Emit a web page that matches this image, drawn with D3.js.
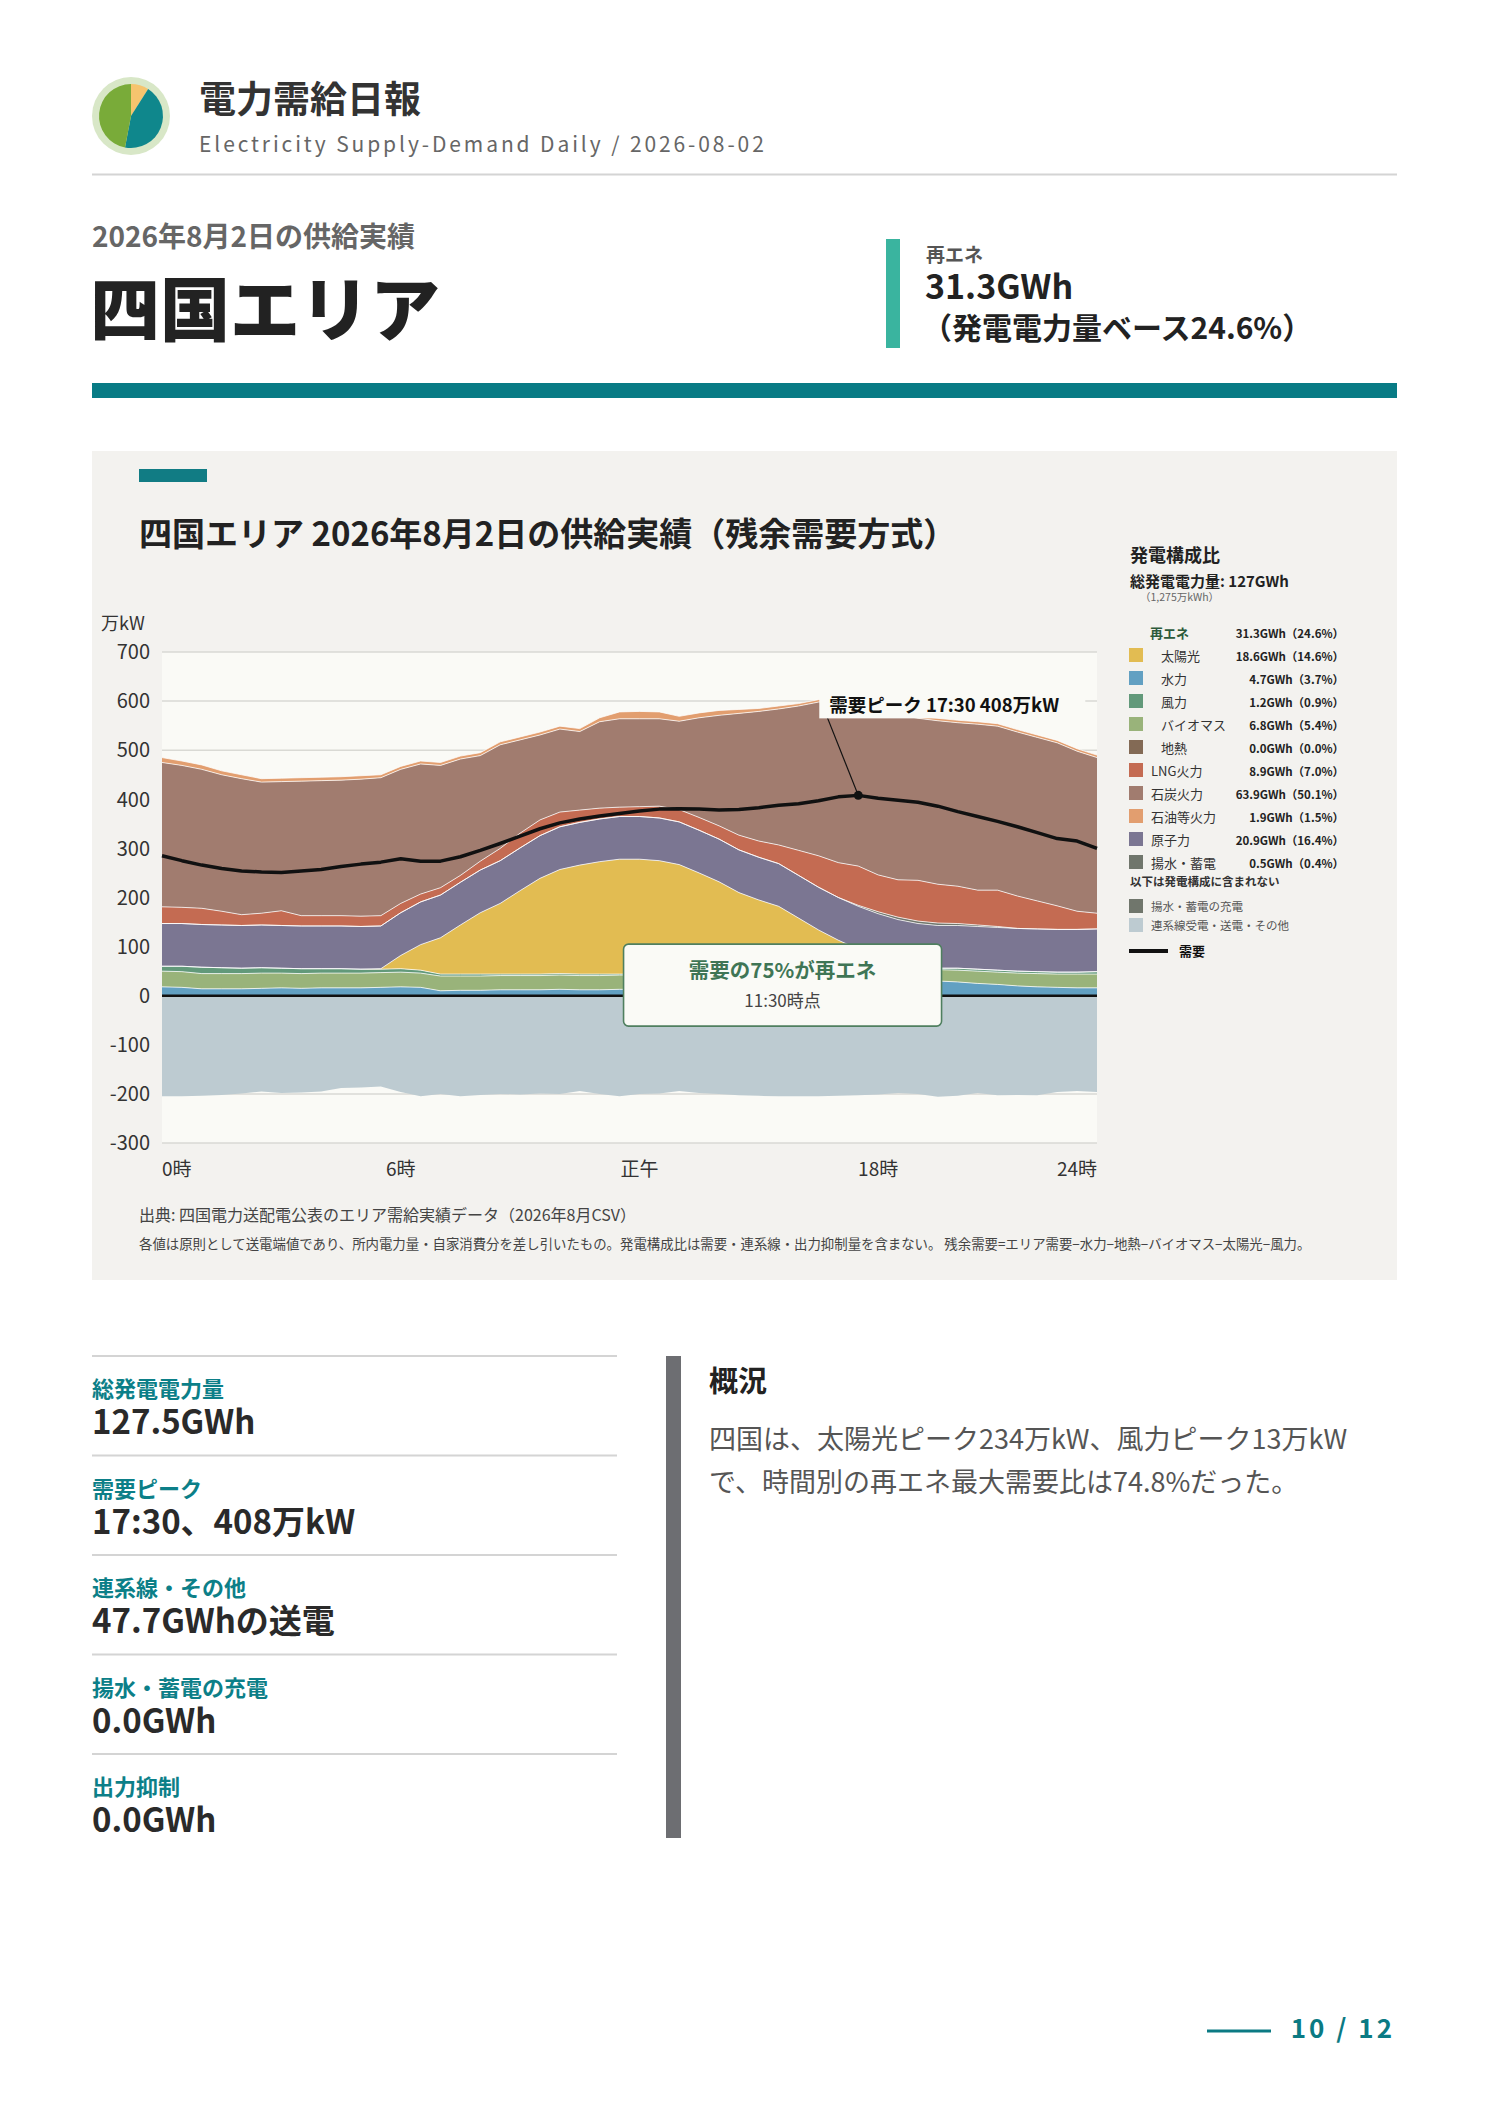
<!DOCTYPE html>
<html lang="ja">
<head>
<meta charset="utf-8">
<script src="https://cdn.jsdelivr.net/npm/d3@7"></script>
<style>
  body { margin: 0; background: #fff; }
  text { font-family: "Noto Sans CJK JP", "Noto Sans", sans-serif; }
</style>
</head>
<body>
<script>
// 30分値 (万kW), 0:00 ～ 23:30
var hydro = [18,17,14,14,14,15,16,15,16,16,16,17,18,17,10,11,11,12,12,12,13,12,12,13,13,13,14,15,16,18,20,22,25,28,30,31,32,32,31,30,28,25,23,20,18,17,16,16]
var biomass = [32,32,31,31,31,31,30,30,30,30,30,30,30,29,30,29,29,29,29,29,29,29,29,29,29,29,29,29,29,28,28,27,26,25,24,23,23,23,23,23,24,25,25,26,27,27,28,28]
var geothermal = [0,0,0,0,0,0,0,0,0,0,0,0,0,0,0,0,0,0,0,0,0,0,0,0,0,0,0,0,0,0,0,0,0,0,0,0,0,0,0,0,0,0,0,0,0,0,0,0]
var wind = [10,11,13,12,11,11,10,10,9,9,8,7,7,6,4,4,4,3,3,3,3,3,3,2,2,2,2,2,2,2,2,2,2,2,3,3,3,3,3,3,4,4,4,4,4,4,4,5]
var solar = [0,0,0,0,0,0,0,0,0,0,0,1,27,52,74,100,125,144,170,195,212,222,229,234,234,231,222,204,185,162,145,131,105,79,56,38,22,10,3,0,0,0,0,0,0,0,0,0]
var nuclear = [87,87,87,87,87,87,87,87,87,87,87,87,87,87,87,87,87,87,87,87,87,87,87,87,87,87,87,87,87,87,87,87,87,87,87,87,87,87,87,87,87,87,87,87,87,87,87,87]
var pumped = [0,0,0,0,0,0,0,0,0,0,0,0,0,0,0,0,0,0,0,0,0,0,0,0,0,0,0,0,0,0,0,0,0,0,0,2,4,5,5,5,4,3,2,0,0,0,0,0]
var lng = [34,33,33,28,22,24,30,21,21,21,21,21,19,16,15,14,18,25,30,32,30,25,22,19,20,24,25,26,27,30,33,38,51,64,71,80,75,76,83,79,76,71,74,66,57,48,37,32]
var coal = [294,289,283,278,277,267,263,274,275,276,279,281,273,265,249,237,215,211,190,173,169,160,176,180,179,178,180,203,225,248,264,277,294,313,330,329,337,337,330,333,333,338,334,334,333,332,326,317]
var oil = [10,9,9,8,8,7,7,7,7,7,7,6,6,6,6,6,6,6,6,6,6,6,8,14,15,14,10,10,10,8,6,6,5,5,5,5,5,5,5,5,5,5,5,5,5,5,5,5]
var interconnect = [-205,-205,-204,-202,-199,-195,-198,-197,-195,-188,-187,-185,-196,-205,-200,-205,-202,-200,-201,-199,-200,-194,-200,-205,-200,-199,-194,-198,-200,-203,-204,-205,-205,-205,-204,-203,-201,-198,-200,-206,-204,-198,-203,-202,-203,-196,-194,-196]
var demand = [285,275,266,259,254,252,251,254,257,263,268,272,279,274,274,283,296,310,325,340,352,360,366,371,376,380,381,380,378,379,383,388,391,397,405,408,402,398,394,386,375,365,355,344,332,320,315,300]

var yTicks = [700,600,500,400,300,200,100,0,-100,-200,-300]
var xTickHours = [0,6,12,18]
var xTickLabels = ["0時","6時","正午","18時"]

// 凡例 (発電構成比)
var legendNames = ["太陽光","水力","風力","バイオマス","地熱","LNG火力","石炭火力","石油等火力","原子力","揚水・蓄電"]
var legendGWh = [18.6,4.7,1.2,6.8,0.0,8.9,63.9,1.9,20.9,0.5]
var legendPct = [14.6,3.7,0.9,5.4,0.0,7.0,50.1,1.5,16.4,0.4]
var renewGWh = 31.3, renewPct = 24.6

var statLabels = ["総発電電力量","需要ピーク","連系線・その他","揚水・蓄電の充電","出力抑制"]
var statValues = ["127.5GWh","17:30、408万kW","47.7GWhの送電","0.0GWh","0.0GWh"]

var logoShares = [9,44,47]

var colors = {
  "水力": "#62a0c2",
  "バイオマス": "#99b37a",
  "地熱": "#836a55",
  "風力": "#62997a",
  "太陽光": "#e2bc52",
  "原子力": "#7b7692",
  "揚水・蓄電": "#70766c",
  "LNG火力": "#c46b52",
  "石炭火力": "#a17c6f",
  "石油等火力": "#e29e6f",
  "連系線": "#bdcbd1"
}

var svg = d3.select("body").append("svg")
  .attr("width", 1488)
  .attr("height", 2105)

// ---------- header ----------
var pie = d3.pie().sort(null)(logoShares)
svg.append("circle").attr("cx", 131).attr("cy", 116).attr("r", 39).attr("fill", "#d8e7c7")
svg.append("g").attr("transform", "translate(131,116)")
  .selectAll("path").data(pie).enter().append("path")
  .attr("d", d3.arc().innerRadius(0).outerRadius(32))
  .attr("fill", function(d, i){ return ["#f6c46e","#0f878c","#79ab39"][i] })

svg.append("text").attr("x", 199).attr("y", 113).text("電力需給日報")
  .attr("font-size", 37).attr("font-weight", 700).attr("fill", "#333")
svg.append("text").attr("x", 199).attr("y", 152).text("Electricity Supply-Demand Daily / 2026-08-02")
  .attr("font-size", 21).attr("letter-spacing", 2.9).attr("fill", "#666")
svg.append("rect").attr("x", 92).attr("y", 173.5).attr("width", 1305).attr("height", 2).attr("fill", "#d4d4d4")

svg.append("text").attr("x", 92).attr("y", 247).text("2026年8月2日の供給実績")
  .attr("font-size", 28).attr("font-weight", 700).attr("fill", "#666")
svg.append("text").attr("x", 90).attr("y", 336).text("四国エリア")
  .attr("font-size", 70).attr("font-weight", 900).attr("fill", "#222")

svg.append("rect").attr("x", 886).attr("y", 239).attr("width", 14).attr("height", 109).attr("fill", "#3ab49f")
svg.append("text").attr("x", 926).attr("y", 262).text("再エネ")
  .attr("font-size", 19).attr("font-weight", 700).attr("fill", "#555")
svg.append("text").attr("x", 925).attr("y", 299).text(renewGWh.toFixed(1) + "GWh")
  .attr("font-size", 34).attr("font-weight", 700).attr("fill", "#222")
svg.append("text").attr("x", 922).attr("y", 339).text("（発電電力量ベース" + renewPct.toFixed(1) + "%）")
  .attr("font-size", 30).attr("font-weight", 700).attr("fill", "#222")

svg.append("rect").attr("x", 92).attr("y", 383).attr("width", 1305).attr("height", 15).attr("fill", "#087b85")

// ---------- chart panel ----------
svg.append("rect").attr("x", 92).attr("y", 451).attr("width", 1305).attr("height", 829).attr("fill", "#f3f2ef")
svg.append("rect").attr("x", 139).attr("y", 469).attr("width", 68).attr("height", 13).attr("fill", "#117c84")
svg.append("text").attr("x", 139).attr("y", 546).text("四国エリア 2026年8月2日の供給実績（残余需要方式）")
  .attr("font-size", 33).attr("font-weight", 700).attr("fill", "#222")

var x = d3.scaleLinear().domain([0, 23.5]).range([162, 1097])
var y = d3.scaleLinear().domain([-300, 700]).range([1143, 652])

svg.append("rect").attr("x", 162).attr("y", 652).attr("width", 935).attr("height", 491).attr("fill", "#fafaf6")

svg.append("g").selectAll("line").data(yTicks).enter().append("line")
  .attr("x1", 162).attr("x2", 1097)
  .attr("y1", function(d){ return y(d) }).attr("y2", function(d){ return y(d) })
  .attr("stroke", "#d9d9d4").attr("stroke-width", 1.5)

svg.append("g").selectAll("text").data(yTicks).enter().append("text")
  .attr("x", 150).attr("y", function(d){ return y(d) })
  .attr("dy", "0.36em").attr("text-anchor", "end")
  .attr("font-size", 20).attr("fill", "#333")
  .text(function(d){ return d })
svg.append("text").attr("x", 101).attr("y", 630).text("万kW").attr("font-size", 18).attr("fill", "#333")

var rows = demand.map(function(d, i){
  return {
    t: i / 2,
    "水力": hydro[i], "バイオマス": biomass[i], "地熱": geothermal[i], "風力": wind[i],
    "太陽光": solar[i], "原子力": nuclear[i], "揚水・蓄電": pumped[i],
    "LNG火力": lng[i], "石炭火力": coal[i], "石油等火力": oil[i]
  }
})
var keys = ["水力","バイオマス","地熱","風力","太陽光","原子力","揚水・蓄電","LNG火力","石炭火力","石油等火力"]
var series = d3.stack().keys(keys)(rows)

var area = d3.area()
  .x(function(d){ return x(d.data.t) })
  .y0(function(d){ return y(d[0]) })
  .y1(function(d){ return y(d[1]) })
var topLine = d3.line()
  .x(function(d){ return x(d.data.t) })
  .y(function(d){ return y(d[1]) })

// 連系線 (負側)
svg.append("path").datum(rows)
  .attr("d", d3.area()
    .x(function(d){ return x(d.t) })
    .y0(y(0))
    .y1(function(d, i){ return y(interconnect[i]) }))
  .attr("fill", colors["連系線"])

svg.append("g").selectAll("path").data(series).enter().append("path")
  .attr("d", area)
  .attr("fill", function(d){ return colors[d.key] })

svg.append("g").selectAll("path").data(series.filter(function(s){ return s.key != "地熱" })).enter().append("path")
  .attr("d", topLine)
  .attr("fill", "none").attr("stroke", "#fff").attr("stroke-width", 1).attr("stroke-opacity", 0.75)

svg.append("line").attr("x1", 162).attr("x2", 1097).attr("y1", y(0)).attr("y2", y(0))
  .attr("stroke", "#111").attr("stroke-width", 2.5)

svg.append("path").datum(demand)
  .attr("d", d3.line().x(function(d, i){ return x(i / 2) }).y(function(d){ return y(d) }))
  .attr("fill", "none").attr("stroke", "#111").attr("stroke-width", 3.5).attr("stroke-linejoin", "round")

// x axis labels
svg.append("g").selectAll("text").data(xTickHours).enter().append("text")
  .attr("x", function(d){ return x(d) }).attr("y", 1176)
  .attr("text-anchor", function(d, i){ return i == 0 ? "start" : "middle" })
  .attr("font-size", 19).attr("fill", "#333")
  .text(function(d, i){ return xTickLabels[i] })
svg.append("text").attr("x", x(23.5)).attr("y", 1176).attr("text-anchor", "end")
  .attr("font-size", 19).attr("fill", "#333").text("24時")

// 需要ピーク
var pk = d3.maxIndex(demand)
var pkX = x(pk / 2), pkY = y(demand[pk])
function hhmm(i){ return Math.floor(i / 2) + ":" + (i % 2 ? "30" : "00") }
svg.append("line").attr("x1", pkX - 31).attr("y1", pkY - 78).attr("x2", pkX).attr("y2", pkY)
  .attr("stroke", "#111").attr("stroke-width", 1.2)
svg.append("rect").attr("x", pkX - 39).attr("y", pkY - 102).attr("width", 266).attr("height", 25)
  .attr("fill", "#fafaf6")
svg.append("text").attr("x", pkX - 29).attr("y", pkY - 83)
  .attr("font-size", 18.5).attr("font-weight", 700).attr("fill", "#111")
  .text("需要ピーク " + hhmm(pk) + " " + demand[pk] + "万kW")
svg.append("circle").attr("cx", pkX).attr("cy", pkY).attr("r", 4.5).attr("fill", "#111")

// 再エネ比率の最大
var ratio = demand.map(function(d, i){ return (hydro[i] + biomass[i] + geothermal[i] + wind[i] + solar[i]) / d })
var rk = d3.maxIndex(ratio)
var bx = x(rk / 2) + 4, by = y(105)
svg.append("rect").attr("x", bx).attr("y", by).attr("width", 318).attr("height", 82)
  .attr("rx", 5).attr("fill", "#fafaf6").attr("stroke", "#4f7f5f").attr("stroke-width", 1.6)
svg.append("text").attr("x", bx + 159).attr("y", by + 34).attr("text-anchor", "middle")
  .attr("font-size", 20.5).attr("font-weight", 700).attr("fill", "#3f7555")
  .text("需要の" + Math.round(ratio[rk] * 100) + "%が再エネ")
svg.append("text").attr("x", bx + 159).attr("y", by + 63).attr("text-anchor", "middle")
  .attr("font-size", 17).attr("fill", "#444")
  .text(hhmm(rk) + "時点")

// ---------- legend ----------
var lg = svg.append("g")
lg.append("text").attr("x", 1130).attr("y", 562).text("発電構成比")
  .attr("font-size", 18).attr("font-weight", 700).attr("fill", "#222")
lg.append("text").attr("x", 1130).attr("y", 587).text("総発電電力量: 127GWh")
  .attr("font-size", 15).attr("font-weight", 700).attr("fill", "#222")
lg.append("text").attr("x", 1140).attr("y", 601).text("（1,275万kWh）")
  .attr("font-size", 10.5).attr("fill", "#666")
lg.append("text").attr("x", 1150).attr("y", 638).text("再エネ")
  .attr("font-size", 13).attr("font-weight", 700).attr("fill", "#2c5a3b")
lg.append("text").attr("x", 1344).attr("y", 638).attr("text-anchor", "end")
  .attr("font-size", 11.5).attr("font-weight", 700).attr("fill", "#222")
  .text(renewGWh.toFixed(1) + "GWh（" + renewPct.toFixed(1) + "%）")

var row = lg.selectAll("g.row").data(legendNames).enter().append("g")
  .attr("transform", function(d, i){ return "translate(0," + (661 + i * 23) + ")" })
row.append("rect").attr("x", 1129).attr("y", -13).attr("width", 14).attr("height", 14)
  .attr("fill", function(d){ return colors[d] })
row.append("text").attr("x", function(d, i){ return i < 5 ? 1161 : 1151 }).attr("y", 0)
  .attr("font-size", 13).attr("fill", "#333").text(function(d){ return d })
row.append("text").attr("x", 1344).attr("y", 0).attr("text-anchor", "end")
  .attr("font-size", 11.5).attr("font-weight", 700).attr("fill", "#222")
  .text(function(d, i){ return legendGWh[i].toFixed(1) + "GWh（" + legendPct[i].toFixed(1) + "%）" })

lg.append("text").attr("x", 1130).attr("y", 886).text("以下は発電構成に含まれない")
  .attr("font-size", 11.5).attr("font-weight", 700).attr("fill", "#333")
lg.append("rect").attr("x", 1129).attr("y", 899).attr("width", 14).attr("height", 14).attr("fill", colors["揚水・蓄電"])
lg.append("text").attr("x", 1151).attr("y", 911).text("揚水・蓄電の充電").attr("font-size", 11.5).attr("fill", "#555")
lg.append("rect").attr("x", 1129).attr("y", 918).attr("width", 14).attr("height", 14).attr("fill", colors["連系線"])
lg.append("text").attr("x", 1151).attr("y", 930).text("連系線受電・送電・その他").attr("font-size", 11.5).attr("fill", "#555")
lg.append("line").attr("x1", 1129).attr("x2", 1168).attr("y1", 951).attr("y2", 951)
  .attr("stroke", "#111").attr("stroke-width", 4)
lg.append("text").attr("x", 1179).attr("y", 956).text("需要")
  .attr("font-size", 13).attr("font-weight", 700).attr("fill", "#111")

// notes
svg.append("text").attr("x", 139).attr("y", 1221).text("出典: 四国電力送配電公表のエリア需給実績データ（2026年8月CSV）")
  .attr("font-size", 16).attr("fill", "#444")
svg.append("text").attr("x", 139).attr("y", 1249)
  .text("各値は原則として送電端値であり、所内電力量・自家消費分を差し引いたもの。発電構成比は需要・連系線・出力抑制量を含まない。 残余需要=エリア需要−水力−地熱−バイオマス−太陽光−風力。")
  .attr("font-size", 13.4).attr("fill", "#444")

// ---------- stats ----------
var st = svg.selectAll("g.stat").data(statLabels).enter().append("g")
  .attr("transform", function(d, i){ return "translate(0," + (i * 99.5) + ")" })
st.append("rect").attr("x", 92).attr("y", 1355).attr("width", 525).attr("height", 2).attr("fill", "#d4d4d4")
st.append("text").attr("x", 92).attr("y", 1397).text(function(d){ return d })
  .attr("font-size", 22).attr("font-weight", 700).attr("fill", "#0c7f88")
st.append("text").attr("x", 92).attr("y", 1434).text(function(d, i){ return statValues[i] })
  .attr("font-size", 33).attr("font-weight", 700).attr("fill", "#2a2a2a")

svg.append("rect").attr("x", 666).attr("y", 1356).attr("width", 15).attr("height", 482).attr("fill", "#6d6e72")
svg.append("text").attr("x", 709).attr("y", 1392).text("概況")
  .attr("font-size", 29).attr("font-weight", 700).attr("fill", "#222")
svg.append("text").attr("x", 709).attr("y", 1449).text("四国は、太陽光ピーク234万kW、風力ピーク13万kW")
  .attr("font-size", 27).attr("fill", "#555")
svg.append("text").attr("x", 709).attr("y", 1492).text("で、時間別の再エネ最大需要比は74.8%だった。")
  .attr("font-size", 27).attr("fill", "#555")

// page number
svg.append("rect").attr("x", 1207).attr("y", 2029.5).attr("width", 64).attr("height", 3).attr("fill", "#0b7a83")
svg.append("text").attr("x", 1395).attr("y", 2038).attr("text-anchor", "end").text("10 / 12")
  .attr("font-size", 26).attr("font-weight", 700).attr("letter-spacing", 3).attr("fill", "#0b7a83")
</script>
</body>
</html>
